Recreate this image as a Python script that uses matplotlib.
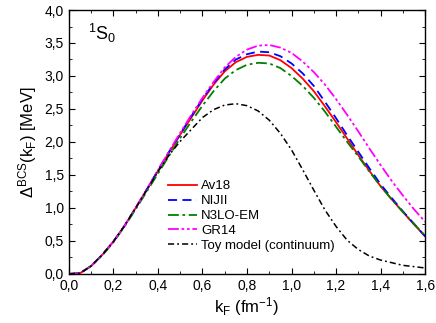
import numpy as np
import matplotlib
matplotlib.use('Agg')
import matplotlib.pyplot as plt
from matplotlib.ticker import MultipleLocator, FuncFormatter

plt.rcParams['font.family'] = ['Liberation Sans', 'DejaVu Sans']
plt.rcParams['mathtext.fontset'] = 'custom'
plt.rcParams['mathtext.rm'] = 'Liberation Sans'
plt.rcParams['mathtext.it'] = 'Liberation Sans:italic'

# gap curves
kf = [0.0, 0.05, 0.1, 0.15, 0.2, 0.25, 0.3, 0.35, 0.4, 0.45, 0.5, 0.55, 0.6, 0.65,
      0.7, 0.75, 0.8, 0.85, 0.9, 0.95, 1.0, 1.05, 1.1, 1.15, 1.2, 1.25, 1.3, 1.35,
      1.4, 1.45, 1.5, 1.55, 1.6]
av18 = [0.0, 0.01, 0.12, 0.29, 0.49, 0.73, 1.00, 1.28, 1.56, 1.84, 2.11, 2.37, 2.63, 2.87,
        3.07, 3.21, 3.29, 3.32, 3.31, 3.24, 3.12, 2.96, 2.77, 2.54, 2.30, 2.05, 1.80, 1.56,
        1.33, 1.13, 0.94, 0.75, 0.57]
nijii = [0.0, 0.01, 0.12, 0.29, 0.49, 0.73, 1.00, 1.28, 1.57, 1.85, 2.12, 2.39, 2.65, 2.89,
         3.10, 3.25, 3.33, 3.37, 3.36, 3.30, 3.19, 3.04, 2.85, 2.61, 2.36, 2.10, 1.85, 1.60,
         1.36, 1.15, 0.95, 0.76, 0.57]
n3lo = [0.0, 0.01, 0.12, 0.28, 0.48, 0.72, 0.98, 1.25, 1.52, 1.79, 2.06, 2.31, 2.55, 2.77,
        2.96, 3.09, 3.17, 3.20, 3.19, 3.12, 3.00, 2.85, 2.67, 2.46, 2.23, 2.00, 1.78, 1.55,
        1.33, 1.13, 0.94, 0.76, 0.58]
gr14 = [0.0, 0.01, 0.12, 0.29, 0.49, 0.73, 1.00, 1.28, 1.57, 1.86, 2.14, 2.41, 2.67, 2.91,
        3.13, 3.29, 3.40, 3.46, 3.47, 3.43, 3.35, 3.22, 3.06, 2.87, 2.65, 2.41, 2.16, 1.90,
        1.65, 1.41, 1.19, 0.98, 0.79]
toy = [0.0, 0.01, 0.12, 0.29, 0.49, 0.73, 1.00, 1.27, 1.55, 1.80, 2.01, 2.19, 2.37, 2.49,
       2.56, 2.58, 2.55, 2.47, 2.33, 2.13, 1.88, 1.58, 1.27, 0.97, 0.72, 0.51, 0.37, 0.27,
       0.21, 0.17, 0.13, 0.11, 0.09]

fig = plt.figure(figsize=(4.36, 3.23), dpi=100)
ax = fig.add_axes([0.158, 0.152, 0.817, 0.817])

ax.plot(kf, av18, color='#ff0000', lw=1.3, ls='-', label='Av18')
ax.plot(kf, nijii, color='#0000ff', lw=1.3, ls=(0, (5, 3)), label='NIJII')
ax.plot(kf, n3lo, color='#008000', lw=1.3, ls=(0, (6, 2, 1.5, 2)), label='N3LO-EM')
ax.plot(kf, gr14, color='#ff00ff', lw=1.3, ls=(0, (6, 1.5, 1.5, 1.5, 1.5, 1.5)), label='GR14')
ax.plot(kf, toy, color='black', lw=1.1, ls=(0, (4, 2, 1.2, 2)), label='Toy model (continuum)')

ax.set_xlim(0, 1.6)
ax.set_ylim(0, 4.0)
ax.xaxis.set_major_locator(MultipleLocator(0.2))
ax.xaxis.set_minor_locator(MultipleLocator(0.1))
ax.yaxis.set_major_locator(MultipleLocator(0.5))
ax.yaxis.set_minor_locator(MultipleLocator(0.25))
comma = FuncFormatter(lambda v, p: ('%.1f' % v).replace('.', ','))
ax.xaxis.set_major_formatter(comma)
ax.yaxis.set_major_formatter(comma)
ax.tick_params(which='both', direction='in', top=True, right=True, labelsize=10)
ax.tick_params(which='major', length=4.5)
ax.tick_params(which='minor', length=2.5)
for s in ax.spines.values():
    s.set_linewidth(1.0)

ax.set_xlabel(r'k$_{\rm F}$ (fm$^{-1}$)', fontsize=12, labelpad=2)
ax.set_ylabel(r'$\Delta^{\rm BCS}$(k$_{\rm F}$) [MeV]', fontsize=12, labelpad=4)
ax.text(0.085, 3.65, r'$^{1}$S$_{0}$', fontsize=13, va='center')

ax.legend(loc='upper left', bbox_to_anchor=(0.278, 0.355), frameon=False, fontsize=9.5,
          handlelength=2.2, handletextpad=0.3, labelspacing=0.2, borderpad=0,
          borderaxespad=0)

fig.savefig('out.png', dpi=100)
